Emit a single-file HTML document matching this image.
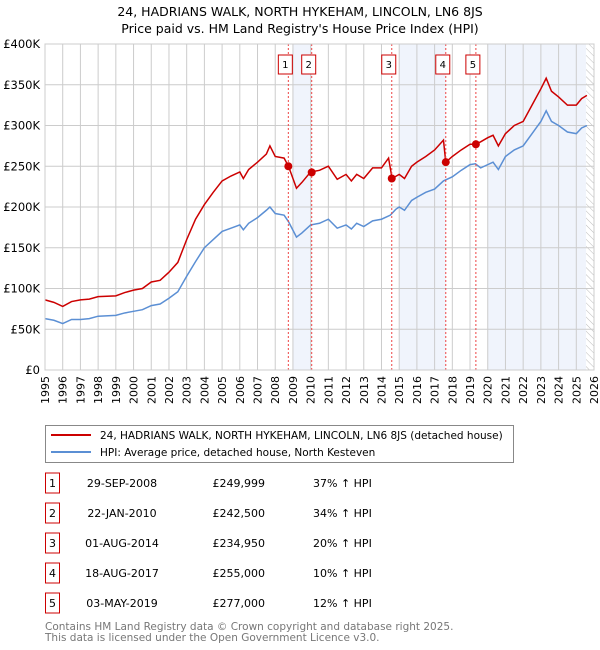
<!DOCTYPE html>
<html><head><meta charset="utf-8"><style>
body{margin:0;width:600px;height:650px;background:#fff;font-family:"DejaVu Sans","Liberation Sans",sans-serif;overflow:hidden}
svg{position:absolute;left:0;top:0}
text{font-family:"DejaVu Sans","Liberation Sans",sans-serif}
</style></head><body>
<svg width="600" height="650">
<text x="300" y="16" text-anchor="middle" font-size="12.5">24, HADRIANS WALK, NORTH HYKEHAM, LINCOLN, LN6 8JS</text>
<text x="300" y="33" text-anchor="middle" font-size="12.5">Price paid vs. HM Land Registry's House Price Index (HPI)</text>
<defs><pattern id="hatch" width="5" height="5" patternUnits="userSpaceOnUse" patternTransform="rotate(-45)"><line x1="0" y1="0" x2="0" y2="5" stroke="#bbb" stroke-width="1"/></pattern></defs>
<g id="plot"></g>
<g id="legend">
<rect x="45.5" y="425.5" width="468" height="37" fill="#fff" stroke="#888"/>
<line x1="51" y1="435" x2="91" y2="435" stroke="#cc0000" stroke-width="2"/>
<text x="100" y="439" font-size="10.5">24, HADRIANS WALK, NORTH HYKEHAM, LINCOLN, LN6 8JS (detached house)</text>
<line x1="51" y1="452" x2="91" y2="452" stroke="#5b8fd4" stroke-width="2"/>
<text x="100" y="456" font-size="10.5">HPI: Average price, detached house, North Kesteven</text>
</g>
<g id="table"></g>
<text x="45" y="630" font-size="10.5" fill="#777">Contains HM Land Registry data © Crown copyright and database right 2025.</text>
<text x="45" y="641" font-size="10.5" fill="#777">This data is licensed under the Open Government Licence v3.0.</text>
</svg>
<script>
const hpiYears=[1995,1995.5,1996,1996.5,1997,1997.5,1998,1999,1999.5,2000,2000.5,2001,2001.5,2002,2002.5,2003,2003.5,2004,2004.5,2005,2005.5,2006,2006.2,2006.5,2007,2007.5,2007.7,2008,2008.5,2008.75,2009.2,2009.5,2010,2010.5,2011,2011.5,2012,2012.3,2012.6,2013,2013.5,2014,2014.5,2014.8,2015,2015.3,2015.7,2016,2016.5,2017,2017.5,2018,2018.5,2019,2019.3,2019.6,2020,2020.3,2020.6,2021,2021.5,2022,2022.5,2023,2023.3,2023.6,2024,2024.5,2025,2025.3,2025.6];
const hpiValues=[63,61,57,62,62,63,66,67,70,72,74,79,81,88,96,115,133,150,160,170,174,178,172,180,187,196,200,192,190,182,163,168,178,180,185,174,178,173,180,176,183,185,190,197,200,196,208,212,218,222,232,237,245,252,253,248,252,255,246,262,270,275,290,305,318,305,300,292,290,297,300];
const priceYears=[1995,1995.5,1996,1996.5,1997,1997.5,1998,1999,1999.5,2000,2000.5,2001,2001.5,2002,2002.5,2003,2003.5,2004,2004.5,2005,2005.5,2006,2006.2,2006.5,2007,2007.5,2007.7,2008,2008.5,2008.75,2009.2,2009.5,2010,2010.5,2011,2011.5,2012,2012.3,2012.6,2013,2013.5,2014,2014.4,2014.6,2015,2015.3,2015.7,2016,2016.5,2017,2017.5,2017.63,2018,2018.5,2019,2019.33,2019.6,2020,2020.3,2020.6,2021,2021.5,2022,2022.5,2023,2023.3,2023.6,2024,2024.5,2025,2025.3,2025.6];
const priceValues=[86,83,78,84,86,87,90,91,95,98,100,108,110,120,132,160,185,203,218,232,238,243,235,246,255,265,275,262,260,250,223,230,243,245,250,234,240,232,240,235,248,248,260,235,240,235,250,255,262,270,282,255,262,270,277,277,280,285,288,275,290,300,305,325,345,358,342,335,325,325,333,337];
const saleLabels=["1","2","3","4","5"];
const saleYears=[2008.74,2010.06,2014.58,2017.63,2019.33];
const saleValues=[249.999,242.5,234.95,255,277];
const saleDates=["29-SEP-2008","22-JAN-2010","01-AUG-2014","18-AUG-2017","03-MAY-2019"];
const salePrices=["£249,999","£242,500","£234,950","£255,000","£277,000"];
const salePct=["37% ↑ HPI","34% ↑ HPI","20% ↑ HPI","10% ↑ HPI","12% ↑ HPI"];
const shadeStart=[2009,2015,2020];
const shadeEnd=[2010.06,2017.63,2025.55];
const yTicks=[0,50,100,150,200,250,300,350,400];
const yTickLabels=["£0","£50K","£100K","£150K","£200K","£250K","£300K","£350K","£400K"];
const x0=45,x1=594,y0=370,y1=44,yr0=1995,yr1=2026;
const X=v=>x0+(v-yr0)/(yr1-yr0)*(x1-x0);
const Y=v=>y0-v/400*(y0-y1);
const NS="http://www.w3.org/2000/svg";
function mk(tag,attrs,parent,txt){const e=document.createElementNS(NS,tag);for(const k in attrs)e.setAttribute(k,attrs[k]);if(txt!==undefined)e.textContent=txt;parent.appendChild(e);return e;}
const g=document.getElementById('plot');
for(let i=0;i<shadeStart.length;i++){const r=mk('rect',{x:X(shadeStart[i]),y:y1,width:X(shadeEnd[i])-X(shadeStart[i]),height:y0-y1,fill:'#f0f4fc'},g);

}
const h=mk('rect',{x:X(2025.55),y:y1,width:x1-X(2025.55),height:y0-y1,fill:'url(#hatch)'},g);


for(let yr=yr0;yr<=yr1;yr++){const l=mk('line',{x1:X(yr),x2:X(yr),y1:y1,y2:y0,stroke:'#ccc'},g);


const t=mk('text',{x:0,y:0,'font-size':11,'text-anchor':'end',transform:`translate(${X(yr)+4},${y0+6}) rotate(-90)`},g,String(yr));

}
for(let i=0;i<yTicks.length;i++){const l=mk('line',{x1:x0,x2:x1,y1:Y(yTicks[i]),y2:Y(yTicks[i]),stroke:'#ccc'},g);


const t=mk('text',{x:x0-5,y:Y(yTicks[i])+4,'font-size':11.5,'text-anchor':'end'},g,yTickLabels[i]);

}
const hp=mk('polyline',{points:hpiYears.map((y,i)=>X(y)+','+Y(hpiValues[i])).join(' '),fill:'none',stroke:'#5b8fd4','stroke-width':1.5},g);


const pp=mk('polyline',{points:priceYears.map((y,i)=>X(y)+','+Y(priceValues[i])).join(' '),fill:'none',stroke:'#cc0000','stroke-width':1.5},g);


for(let i=0;i<saleYears.length;i++){const x=X(saleYears[i]);
const l=mk('line',{x1:x,x2:x,y1:y1,y2:y0,stroke:'#ee4444','stroke-dasharray':'2,2'},g);


const c=mk('circle',{cx:x,cy:Y(saleValues[i]),r:4,fill:'#cc0000'},g);


const b=mk('rect',{x:x-10,y:55,width:14,height:19,fill:'#fff',stroke:'#cc0000'},g);


const t=mk('text',{x:x-3,y:68,'font-size':10,'text-anchor':'middle'},g,saleLabels[i]);

}
const ax=mk('rect',{x:x0,y:y1,width:x1-x0,height:y0-y1,fill:'none',stroke:'#ccc'},g);


const tb=document.getElementById('table');
for(let i=0;i<saleLabels.length;i++){const cy=483+30*i;
const b=mk('rect',{x:45.5,y:cy-10,width:14,height:20,fill:'#fff',stroke:'#cc0000'},tb);


const t0=mk('text',{x:52.5,y:cy+4,'font-size':11,'text-anchor':'middle'},tb,saleLabels[i]);


const t1=mk('text',{x:122,y:cy+4,'font-size':11,'text-anchor':'middle'},tb,saleDates[i]);


const t2=mk('text',{x:265,y:cy+4,'font-size':11,'text-anchor':'end'},tb,salePrices[i]);


const t3=mk('text',{x:313,y:cy+4,'font-size':11},tb,salePct[i]);

}
</script>
</body></html>
